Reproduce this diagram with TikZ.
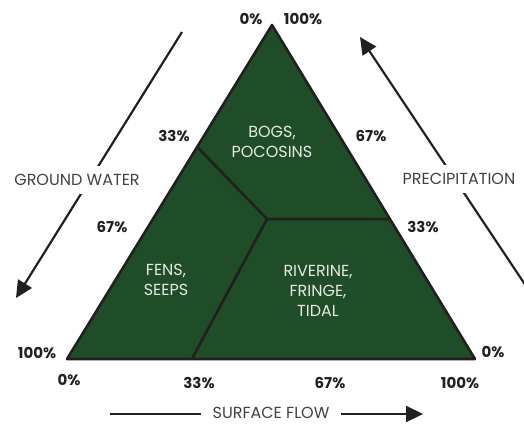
\documentclass[tikz,border=0pt]{standalone}
\usepackage{fontspec}
\setmainfont{Poppins}
\usetikzlibrary{arrows.meta,calc}

\definecolor{marsh}{RGB}{31,77,40}
\definecolor{ink}{RGB}{35,31,32}
\definecolor{pale}{RGB}{230,234,226}

\tikzset{
	pct/.style={font=\fontsize{15}{17}\selectfont\bfseries,text=ink,inner sep=0pt},
	flowlabel/.style={font=\fontsize{16}{18}\selectfont,text=ink!85,fill=white,inner xsep=12pt,inner ysep=8pt},
	zone/.style={font=\fontsize{16}{20}\selectfont,text=pale,align=center},
	edge/.style={line width=2.6pt,draw=ink,line join=round},
	flowarrow/.style={line width=2.2pt,draw=ink,-{Triangle[length=17pt,width=16pt]}}
}

\begin{document}
\begin{tikzpicture}[x=1pt,y=-1pt]
		\useasboundingbox (0,0) rectangle (524,424);
		% triangle corners
		\coordinate (apex) at (272,25);
		\coordinate (left) at (67,359);
		\coordinate (right) at (475,359);
		\coordinate (mid) at (267,219);
		\coordinate (gwpt) at ($(apex)!0.365!(left)$);
		\coordinate (prpt) at ($(apex)!0.581!(right)$);
		\coordinate (sfpt) at ($(left)!0.306!(right)$);
		\fill[marsh] (apex) -- (left) -- (right) -- cycle;
		\draw[edge] (gwpt) -- (mid) -- (prpt);
		\draw[edge] (mid) -- (sfpt);
		\draw[edge] (apex) -- (left) -- (right) -- cycle;
		% zones
		\node[zone] (bogs) at (272,142) {BOGS,\\POCOSINS};
		\node[zone] (fens) at (166,280) {FENS,\\SEEPS};
		\node[zone] (riverine) at (318,291) {RIVERINE,\\FRINGE,\\TIDAL};
		% flow arrows
		\coordinate (gwtail) at (182,32);
		\coordinate (gwtip) at (16,298);
		\coordinate (prtail) at (532,295);
		\coordinate (prtip) at (360,37);
		\coordinate (sftail) at (110,414);
		\coordinate (sftip) at (423,414);
		\draw[flowarrow] (gwtail) -- (gwtip);
		\draw[flowarrow] (prtail) -- (prtip);
		\draw[flowarrow] (sftail) -- (sftip);
		\node[flowlabel] (gw) at (77,180) {GROUND WATER};
		\node[flowlabel] (pr) at (459,179) {PRECIPITATION};
		\node[flowlabel,inner ysep=0pt] (sf) at (271,413) {SURFACE FLOW};
		% percent scales
		\node[pct] (gw0) at (251,19) {0\%};
		\node[pct] (pr100) at (303,19) {100\%};
		\node[pct] (gw33) at (174,136) {33\%};
		\node[pct] (pr67) at (371,136) {67\%};
		\node[pct] (gw67) at (112,227) {67\%};
		\node[pct] (pr33) at (423,227) {33\%};
		\node[pct] (gw100) at (37,353) {100\%};
		\node[pct] (pr0) at (493,352) {0\%};
		\node[pct] (sf0) at (69,380) {0\%};
		\node[pct] (sf33) at (199,383) {33\%};
		\node[pct] (sf67) at (330,383) {67\%};
		\node[pct] (sf100) at (460,383) {100\%};
\end{tikzpicture}
\end{document}
